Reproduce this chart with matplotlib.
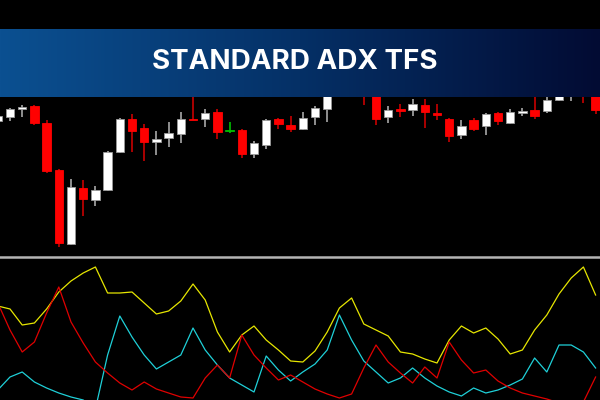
import matplotlib
matplotlib.use("Agg")
import matplotlib.pyplot as plt
import numpy as np
from matplotlib.colors import LinearSegmentedColormap

# candle prices (arbitrary price units)
opens = [139, 143, 151, 154, 137, 90, 16, 72, 60, 70, 108, 141, 132, 118, 122, 126, 141, 141, 148, 129,
         130, 106, 115, 141, 135, 131, 143, 151, 172, 195, 178, 170, 143, 151, 150, 155, 147, 141, 125, 140,
         134, 147, 137, 147, 150, 149, 160, 170, 175, 168]
highs = [147, 152, 155, 155, 140, 91, 81, 80, 74, 109, 142, 146, 136, 129, 138, 148, 170, 151, 151, 138,
         131, 119, 141, 142, 144, 148, 154, 170, 195, 200, 182, 172, 154, 156, 161, 161, 156, 142, 140, 142,
         147, 148, 151, 152, 168, 167, 174, 182, 180, 170]
lows = [137, 139, 143, 135, 87, 13, 15, 44, 54, 69, 107, 108, 99, 105, 113, 117, 140, 133, 121, 127,
        102, 102, 111, 131, 128, 130, 135, 138, 167, 170, 155, 135, 137, 143, 144, 132, 140, 118, 121, 129,
        125, 135, 136, 144, 141, 147, 159, 159, 157, 146]
closes = [144, 151, 153, 137, 89, 17, 73, 61, 70, 108, 141, 129, 118, 121, 127, 141, 140, 147, 128, 129,
          106, 117, 140, 136, 131, 142, 152, 168, 190, 180, 166, 141, 150, 149, 156, 148, 145, 124, 134, 131,
          146, 139, 148, 149, 144, 160, 170, 180, 165, 150]

# indicator lines
adx_yellow = [52, 50.5, 42.5, 43.5, 50.5, 59, 64.5, 68.5, 71.5, 58.5, 58.5, 59, 53.5, 48, 49.5, 54.5, 63, 55,
              39, 29, 37.5, 42, 35, 30, 24.5, 24, 29.5, 39, 51, 56, 43, 40, 37, 29, 28, 25.5, 23.5, 35, 42,
              38.5, 41, 35.5, 28, 30, 40, 47.5, 58, 66, 71.5, 57.5]
di_cyan = [10, 16.5, 19, 14, 11, 8.5, 6.5, 5, 0.5, 27.5, 47, 36.5, 27.5, 20.5, 24, 27.5, 41, 30, 22.5, 16,
           12.5, 9, 27, 20, 14.5, 19, 23, 30, 47.5, 35, 24.5, 19, 13.5, 16, 21, 16, 12, 9, 7, 11, 8.5, 10,
           12.5, 15.5, 26, 19, 32.5, 32.5, 29, 21]
di_red = [53.5, 40, 29, 34, 48.5, 61.5, 44, 33.5, 24, 18.5, 13.5, 10, 14, 10.5, 8.5, 6.5, 6, 16, 22.5, 16,
          37.5, 27.5, 21, 15, 17.5, 14, 10.5, 8, 6, 8, 21, 32.5, 24, 18.5, 13.5, 21.5, 16, 34, 25, 18.5,
          20, 14.5, 11, 8.5, 7, 5.5, 3.5, 2.5, 4, 16.5]

title = "STANDARD ADX TFS"

fig = plt.figure(figsize=(6, 4), dpi=100, facecolor="black")

# price panel
ax = fig.add_axes([0, 0.36, 1, 0.64])
ax.set_facecolor("black")
x = np.arange(len(opens))
o = np.array(opens, float)
c = np.array(closes, float)
up = c > o
down = c < o
flat = c == o

wick_cols = np.where(up, "#a8a8a8", np.where(down, "#c80000", "#00c000"))
ax.vlines(x, lows, highs, colors=wick_cols, lw=1.2, zorder=1)
bottom = np.minimum(o, c)
height = np.maximum(np.abs(c - o), 1.2)
body_cols = np.where(up, "#ffffff", np.where(down, "#ff0000", "#00c000"))
edge_cols = np.where(up, "#9a9a9a", np.where(down, "#ff0000", "#00c000"))
ax.bar(x, height, bottom=bottom, width=0.7, color=body_cols, edgecolor=edge_cols, lw=0.6, zorder=2)
ax.set_xlim(0.18, 49.36)
ax.set_ylim(4, 260)
ax.axis("off")

# separator
fig.add_artist(plt.Line2D([0, 1], [1 - 257 / 400] * 2, color="#b4b4b4", lw=1.8, transform=fig.transFigure))

# indicator panel
ax2 = fig.add_axes([0, 0, 1, 0.355])
ax2.set_facecolor("black")
ax2.plot(x, adx_yellow, color="#e6e600", lw=0.9)
ax2.plot(x, di_cyan, color="#1fd0d8", lw=0.9)
ax2.plot(x, di_red, color="#e00000", lw=0.9)
ax2.set_xlim(0.18, 49.36)
ax2.set_ylim(5, 76)
ax2.axis("off")

# title banner
bax = fig.add_axes([0, 1 - 97 / 400, 1, 68 / 400])
cmap = LinearSegmentedColormap.from_list("banner", ["#0b5091", "#053066", "#020b33"])
bax.imshow(np.linspace(0, 1, 256)[None, :], aspect="auto", cmap=cmap, extent=[0, 1, 0, 1])
bax.set_xlim(0, 1)
bax.set_ylim(0, 1)
bax.axis("off")
bax.text(0.492, 0.41, title, color="white", fontsize=20, fontweight="bold",
         family=["Inter", "DejaVu Sans"], ha="center", va="baseline")

fig.savefig("out.png", dpi=100, facecolor="black")
